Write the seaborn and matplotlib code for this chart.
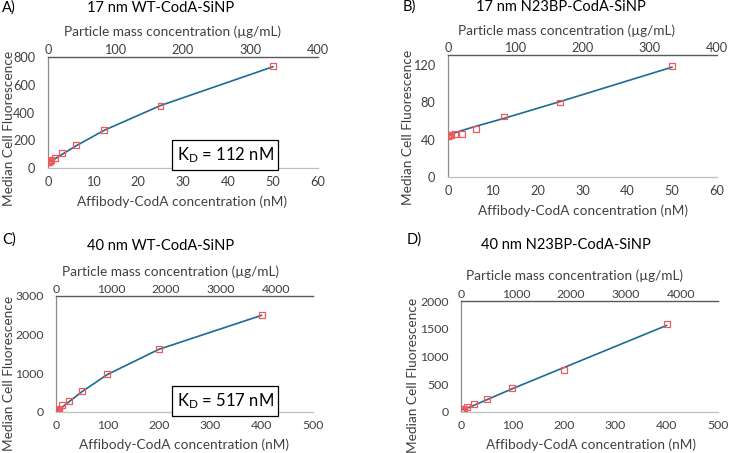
import numpy as np
import pandas as pd
import matplotlib
matplotlib.use("Agg")
import matplotlib.pyplot as plt
import seaborn as sns

sns.set_style("white")
plt.rcParams["font.family"] = ["Lato", "DejaVu Sans"]
plt.rcParams["mathtext.default"] = "regular"

# ---------------- data ----------------
conc_17 = [0, 0.049, 0.098, 0.195, 0.39, 0.78, 1.5625, 3.125, 6.25, 12.5, 25, 50]
conc_40 = [0, 0.39, 0.78, 1.5625, 3.125, 6.25, 12.5, 25, 50, 100, 200, 400]

mfi_A = [42, 43, 44, 46, 50, 58, 72, 106, 166, 272, 446, 735]
fit_A = [42, 43, 44, 45, 48, 54, 66, 98, 160, 272, 450, 730]

mfi_B = [44, 44, 44.5, 45, 45, 45.5, 46, 46, 52, 65, 80, 119]
fit_B = [44, 44.1, 44.2, 44.5, 45, 46, 47.5, 50, 54.5, 63, 81, 118]

mfi_C = [40, 42, 45, 50, 60, 90, 180, 285, 540, 975, 1620, 2505]
fit_C = [40, 41, 42, 45, 55, 75, 130, 260, 520, 970, 1620, 2500]

mfi_D = [40, 40, 42, 44, 48, 55, 85, 150, 234, 427, 757, 1580]
fit_D = [40, 41, 42, 44, 48, 55, 70, 120, 220, 420, 800, 1560]

titles = ["17 nm WT-CodA-SiNP", "17 nm N23BP-CodA-SiNP",
          "40 nm WT-CodA-SiNP", "40 nm N23BP-CodA-SiNP"]
letters = ["A)", "B)", "C)", "D)"]
kd_labels = ["K$_D$ = 112 nM", None, "K$_D$ = 517 nM", None]

xticks_17 = [0, 10, 20, 30, 40, 50, 60]
xticks_40 = [0, 100, 200, 300, 400, 500]
top_ticks_17 = [0, 100, 200, 300, 400]
top_ticks_40 = [0, 1000, 2000, 3000, 4000]
yticks_A = [0, 200, 400, 600, 800]
yticks_B = [0, 40, 80, 120]
yticks_C = [0, 1000, 2000, 3000]
yticks_D = [0, 500, 1000, 1500, 2000]

xlabel = "Affibody-CodA concentration (nM)"
toplabel = "Particle mass concentration (µg/mL)"
ylabel = "Median Cell Fluorescence"

# ---------------- layout ----------------
W, H = 731, 453
fig = plt.figure(figsize=(W / 100, H / 100), dpi=100)

def rect(l, r, t, b):
    return [l / W, (H - b) / H, (r - l) / W, (b - t) / H]

def fx(x):
    return x / W

def fy(y):
    return (H - y) / H

panels = [
    dict(rect=rect(48, 318, 57, 168), x=conc_17, y=mfi_A, f=fit_A, xlim=(0, 60), ylim=(0, 800),
         xt=xticks_17, yt=yticks_A, tt=top_ticks_17, tlim=(0, 400), tfs=9.2,
         letter=(2, 8), title=(161, 8), top=(172, 32), yl=(9, 128), xl=(182, 202), kd=(225, 155)),
    dict(rect=rect(448, 717, 55, 177), x=conc_17, y=mfi_B, f=fit_B, xlim=(0, 60), ylim=(0, 131),
         xt=xticks_17, yt=yticks_B, tt=top_ticks_17, tlim=(0, 400), tfs=9.2,
         letter=(403, 7), title=(561, 7), top=(567, 31), yl=(408, 127), xl=(583, 211), kd=None),
    dict(rect=rect(56, 313, 296, 412), x=conc_40, y=mfi_C, f=fit_C, xlim=(0, 500), ylim=(0, 3000),
         xt=xticks_40, yt=yticks_C, tt=top_ticks_40, tlim=(0, 4670), tfs=8.8,
         letter=(2, 240), title=(161, 246), top=(171, 272), yl=(9, 373), xl=(184, 445), kd=(225, 401)),
    dict(rect=rect(461, 718, 301, 412), x=conc_40, y=mfi_D, f=fit_D, xlim=(0, 500), ylim=(0, 2000),
         xt=xticks_40, yt=yticks_D, tt=top_ticks_40, tlim=(0, 4670), tfs=8.8,
         letter=(407, 240), title=(566, 245), top=(574, 276), yl=(413, 375), xl=(591, 445), kd=None),
]

line_color = "#1d6a94"
marker_color = "#f05a5a"
label_fs = 9.8

for i, p in enumerate(panels):
    ax = fig.add_axes(p["rect"])
    df = pd.DataFrame({"conc": p["x"], "mfi": p["y"], "fit": p["f"]})
    sns.lineplot(data=df, x="conc", y="fit", ax=ax, color=line_color, lw=1.2,
                 sort=False, estimator=None, zorder=2)
    sns.scatterplot(data=df, x="conc", y="mfi", ax=ax, marker="s", s=18,
                    facecolor="none", edgecolor=marker_color, linewidth=0.9, zorder=3)
    ax.set_xlim(*p["xlim"])
    ax.set_ylim(*p["ylim"])
    ax.set_xticks(p["xt"])
    ax.set_yticks(p["yt"])
    ax.set_xlabel("")
    ax.set_ylabel("")
    ax.tick_params(axis="both", length=0, labelsize=p["tfs"], colors="#404040")
    ax.tick_params(axis="x", pad=6)
    ax.tick_params(axis="y", pad=9)
    for s in ["top", "right"]:
        ax.spines[s].set_visible(False)
    ax.spines["left"].set_color("#8c8c8c")
    ax.spines["left"].set_linewidth(0.9)
    ax.spines["bottom"].set_color("#bfbfbf")
    ax.spines["bottom"].set_linewidth(0.9)

    tx = ax.twiny()
    tx.set_xlim(*p["tlim"])
    tx.set_xticks(p["tt"])
    tx.tick_params(axis="x", length=0, labelsize=p["tfs"], colors="#404040", pad=1)
    for s in ["left", "right", "bottom"]:
        tx.spines[s].set_visible(False)
    tx.spines["top"].set_color("#595959")
    tx.spines["top"].set_linewidth(1.0)

    fig.text(fx(p["letter"][0]), fy(p["letter"][1]), letters[i], ha="left", va="center",
             fontsize=10.5, color="black")
    fig.text(fx(p["title"][0]), fy(p["title"][1]), titles[i], ha="center", va="center",
             fontsize=10.5, color="black")
    fig.text(fx(p["top"][0]), fy(p["top"][1]), toplabel, ha="center", va="center",
             fontsize=label_fs, color="#404040")
    fig.text(fx(p["yl"][0]), fy(p["yl"][1]), ylabel, ha="center", va="center",
             rotation=90, fontsize=label_fs, color="#404040")
    fig.text(fx(p["xl"][0]), fy(p["xl"][1]), xlabel, ha="center", va="center",
             fontsize=label_fs, color="#404040")
    if kd_labels[i]:
        fig.text(fx(p["kd"][0]), fy(p["kd"][1]), kd_labels[i], ha="center", va="center",
                 fontsize=12, color="black", zorder=10,
                 bbox=dict(boxstyle="square,pad=0.3", facecolor="white", edgecolor="black", lw=0.9))

fig.savefig("out.png", dpi=100)
